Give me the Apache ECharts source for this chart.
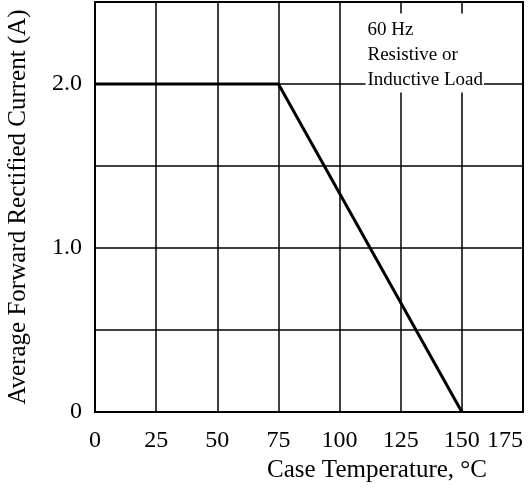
<!DOCTYPE html>
<html><head><meta charset="utf-8">
<script src="https://cdn.jsdelivr.net/npm/echarts@6/dist/echarts.min.js"></script>
<style>html,body{margin:0;padding:0;background:#fff}#c{width:530px;height:490px}</style>
</head><body><div id="c"></div>
<script>
// Data
const temperature = [0, 75, 150];       // Case temperature, °C
const current = [2.0, 2.0, 0];          // Average forward rectified current, A
const yTickValues = [0, 1, 2];
const yTickLabels = ['0', '1.0', '2.0'];
const noteLines = ['60 Hz', 'Resistive or', 'Inductive Load'];
const noteAnchor = [110.6, 2.43];       // data-space position of the note's top-left corner

const FONT = "'Liberation Serif', 'Times New Roman', serif";
const chart = echarts.init(document.getElementById('c'));
const lineStyle = { color: '#000', width: 1.5 };

chart.setOption({
  animation: false,
  backgroundColor: '#fff',
  grid: { left: 95, right: 7, top: 2, bottom: 78, show: true, borderColor: '#000', borderWidth: 2,
          containLabel: false, outerBoundsMode: 'none' },
  xAxis: {
    type: 'value', min: 0, max: 175, interval: 25,
    axisLine: { show: true, lineStyle: { color: '#000', width: 2 } },
    axisTick: { show: false },
    splitLine: { show: true, lineStyle: lineStyle },
    axisLabel: { color: '#000', fontFamily: FONT, fontSize: 24, margin: 17, alignMaxLabel: 'right', hideOverlap: false },
    name: 'Case Temperature, °C', nameLocation: 'middle', nameGap: 45,
    nameTextStyle: { color: '#000', fontFamily: FONT, fontSize: 25, padding: [0, 0, 0, 136] }
  },
  yAxis: {
    type: 'value', min: 0, max: 2.5, interval: 0.5,
    axisLine: { show: true, lineStyle: { color: '#000', width: 2 } },
    axisTick: { show: false },
    splitLine: { show: true, lineStyle: lineStyle },
    axisLabel: {
      color: '#000', fontFamily: FONT, fontSize: 24, margin: 13,
      formatter: function (v) {
        for (let i = 0; i < yTickValues.length; i++) {
          if (Math.abs(v - yTickValues[i]) < 1e-6) return yTickLabels[i];
        }
        return '';
      }
    },
    name: 'Average Forward Rectified Current (A)', nameLocation: 'middle', nameGap: 64,
    nameTextStyle: { color: '#000', fontFamily: FONT, fontSize: 25 }
  },
  series: [{
    type: 'line',
    data: temperature.map((t, i) => [t, current[i]]),
    symbol: 'none',
    lineStyle: { color: '#000', width: 3 },
    z: 5
  }]
});

const p = chart.convertToPixel({ gridIndex: 0 }, noteAnchor);
chart.setOption({
  graphic: [{
    type: 'text', z: 100, left: p[0], top: p[1],
    style: {
      text: noteLines.join('\n'),
      font: '19px ' + FONT, fill: '#000', lineHeight: 25,
      backgroundColor: '#fff', padding: [4, 1, 0, 2]
    }
  }]
});
</script></body></html>
